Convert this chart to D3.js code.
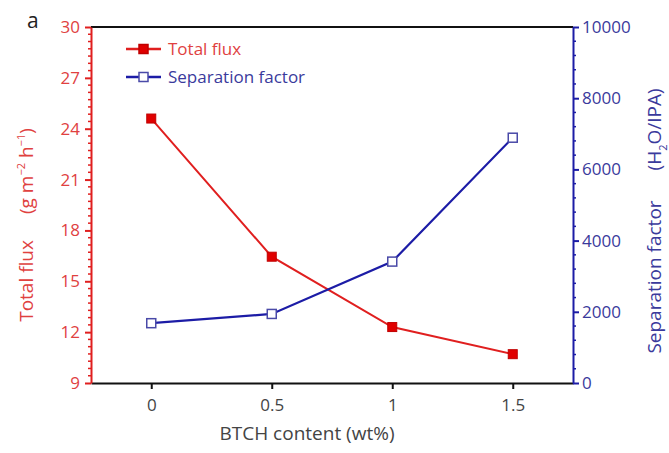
<!DOCTYPE html>
<html>
<head>
<meta charset="utf-8">
<script src="https://cdn.jsdelivr.net/npm/d3@7"></script>
<style>
  body { margin: 0; background: #fff; }
  svg text { font-family: "Open Sans", "Noto Sans", sans-serif; }
</style>
</head>
<body>
<div id="chart"></div>
<script>
// data
const btch = [0, 0.5, 1, 1.5];
const totalFlux = [24.6, 16.45, 12.3, 10.7];
const sepFactor = [1680, 1940, 3410, 6890];

const xTicks = [0, 0.5, 1, 1.5];
const fluxTicks = [9, 12, 15, 18, 21, 24, 27, 30];
const sepTicks = [0, 2000, 4000, 6000, 8000, 10000];

const width = 669;
const height = 453;
const plotLeft = 91;
const plotRight = 573;
const plotTop = 27;
const plotBottom = 383;

const red = "#e01f1f";
const redText = "#e0413f";
const blue = "#1c1ca6";
const blueText = "#3a3a9c";

const svg = d3
  .select("#chart")
  .append("svg")
  .attr("width", width)
  .attr("height", height);

const xScale = d3.scaleLinear().domain([-0.25, 1.75]).range([plotLeft, plotRight]);
const yFlux = d3.scaleLinear().domain([9, 30]).range([plotBottom, plotTop]);
const ySep = d3.scaleLinear().domain([0, 10000]).range([plotBottom, plotTop]);

// minor ticks (7 steps per major on the left, 5 on the right)
const fluxMinor = d3.range(1, 21 * 7 / 3).filter((k) => k % 7 !== 0).map((k) => 9 + k * 3 / 7);
const sepMinor = d3.range(0, 10000, 400).filter((v) => v % 2000 !== 0);

// frame top / bottom
svg.append("line")
  .attr("x1", plotLeft).attr("x2", plotRight)
  .attr("y1", plotTop).attr("y2", plotTop)
  .attr("stroke", "#111").attr("stroke-width", 2);

const xAxis = d3.axisBottom(xScale).tickValues(xTicks).tickFormat(d3.format("")).tickSize(6).tickSizeOuter(0);
const gx = svg.append("g")
  .attr("transform", `translate(0, ${plotBottom})`)
  .call(xAxis);
gx.select(".domain").attr("stroke", "#111").attr("stroke-width", 2);
gx.selectAll(".tick line").attr("stroke", "#111").attr("stroke-width", 2);
gx.selectAll(".tick text")
  .attr("font-size", 17).attr("fill", "#444").attr("dy", "1.1em");

// left axis (red)
const gl = svg.append("g")
  .attr("transform", `translate(${plotLeft}, 0)`)
  .call(d3.axisLeft(yFlux).tickValues(fluxTicks).tickSize(6).tickSizeOuter(0).tickPadding(5));
gl.select(".domain").attr("stroke", red).attr("stroke-width", 2);
gl.selectAll(".tick line").attr("stroke", red).attr("stroke-width", 2);
gl.selectAll(".tick text").attr("font-size", 17).attr("fill", redText);
gl.selectAll(".minor")
  .data(fluxMinor)
  .enter()
  .append("line")
  .attr("x1", -3).attr("x2", 0)
  .attr("y1", (d) => yFlux(d)).attr("y2", (d) => yFlux(d))
  .attr("stroke", red).attr("stroke-width", 1.5);

// right axis (blue)
const gr = svg.append("g")
  .attr("transform", `translate(${plotRight}, 0)`)
  .call(d3.axisRight(ySep).tickValues(sepTicks).tickFormat(d3.format("d")).tickSize(6).tickSizeOuter(0).tickPadding(3));
gr.select(".domain").attr("stroke", blue).attr("stroke-width", 2);
gr.selectAll(".tick line").attr("stroke", blue).attr("stroke-width", 2);
gr.selectAll(".tick text").attr("font-size", 17).attr("fill", blueText);
gr.selectAll(".minor")
  .data(sepMinor)
  .enter()
  .append("line")
  .attr("x1", 0).attr("x2", 3)
  .attr("y1", (d) => ySep(d)).attr("y2", (d) => ySep(d))
  .attr("stroke", blue).attr("stroke-width", 1.5);

// axis titles
svg.append("text")
  .attr("x", 307).attr("y", 440)
  .attr("text-anchor", "middle")
  .attr("font-size", 19).attr("fill", "#444")
  .text("BTCH content (wt%)");

const lt = svg.append("text")
  .attr("transform", "translate(33, 225) rotate(-90)")
  .attr("text-anchor", "middle")
  .attr("font-size", 19).attr("fill", redText);
lt.append("tspan").text("Total flux");
lt.append("tspan").attr("dx", 26).text("(g m");
lt.append("tspan").attr("font-size", 11).attr("dy", -8).text("−2");
lt.append("tspan").attr("dy", 8).text(" h");
lt.append("tspan").attr("font-size", 11).attr("dy", -8).text("−1");
lt.append("tspan").attr("dy", 8).text(")");

const rt = svg.append("text")
  .attr("transform", "translate(661, 221) rotate(-90)")
  .attr("text-anchor", "middle")
  .attr("font-size", 19).attr("fill", blueText);
rt.append("tspan").text("Separation factor");
rt.append("tspan").attr("dx", 30).text("(H");
rt.append("tspan").attr("font-size", 11).attr("dy", 6).text("2");
rt.append("tspan").attr("dy", -6).text("O/IPA)");

svg.append("text")
  .attr("x", 27).attr("y", 28)
  .attr("font-size", 21).attr("fill", "#222")
  .text("a");

// lines
const fluxLine = d3.line().x((d, i) => xScale(btch[i])).y((d) => yFlux(d));
const sepLine = d3.line().x((d, i) => xScale(btch[i])).y((d) => ySep(d));

svg.append("path")
  .datum(totalFlux)
  .attr("d", fluxLine)
  .attr("fill", "none").attr("stroke", red).attr("stroke-width", 2);

svg.append("path")
  .datum(sepFactor)
  .attr("d", sepLine)
  .attr("fill", "none").attr("stroke", blue).attr("stroke-width", 2.2);

const ms = 9;
svg.selectAll(".flux-pt")
  .data(totalFlux)
  .enter()
  .append("rect")
  .attr("x", (d, i) => xScale(btch[i]) - ms / 2)
  .attr("y", (d) => yFlux(d) - ms / 2)
  .attr("width", ms).attr("height", ms)
  .attr("fill", "#e00000").attr("stroke", "#c00000").attr("stroke-width", 1);

svg.selectAll(".sep-pt")
  .data(sepFactor)
  .enter()
  .append("rect")
  .attr("x", (d, i) => xScale(btch[i]) - ms / 2)
  .attr("y", (d) => ySep(d) - ms / 2)
  .attr("width", ms).attr("height", ms)
  .attr("fill", "#fff").attr("stroke", "#4a4aa8").attr("stroke-width", 1.5);

// legend
const legend = [
  { name: "Total flux", color: red, text: redText, fill: "#e00000", stroke: "#c00000", y: 49 },
  { name: "Separation factor", color: blue, text: blueText, fill: "#fff", stroke: "#4a4aa8", y: 77 },
];
const lg = svg.selectAll(".legend").data(legend).enter().append("g");
lg.append("line")
  .attr("x1", 126).attr("x2", 161)
  .attr("y1", (d) => d.y).attr("y2", (d) => d.y)
  .attr("stroke", (d) => d.color).attr("stroke-width", 2.5);
lg.append("rect")
  .attr("x", 143.5 - ms / 2).attr("y", (d) => d.y - ms / 2)
  .attr("width", ms).attr("height", ms)
  .attr("fill", (d) => d.fill).attr("stroke", (d) => d.stroke).attr("stroke-width", 1.5);
lg.append("text")
  .attr("x", 168).attr("y", (d) => d.y)
  .attr("dy", "0.35em")
  .attr("font-size", 17)
  .attr("fill", (d) => d.text)
  .text((d) => d.name);
</script>
</body>
</html>
